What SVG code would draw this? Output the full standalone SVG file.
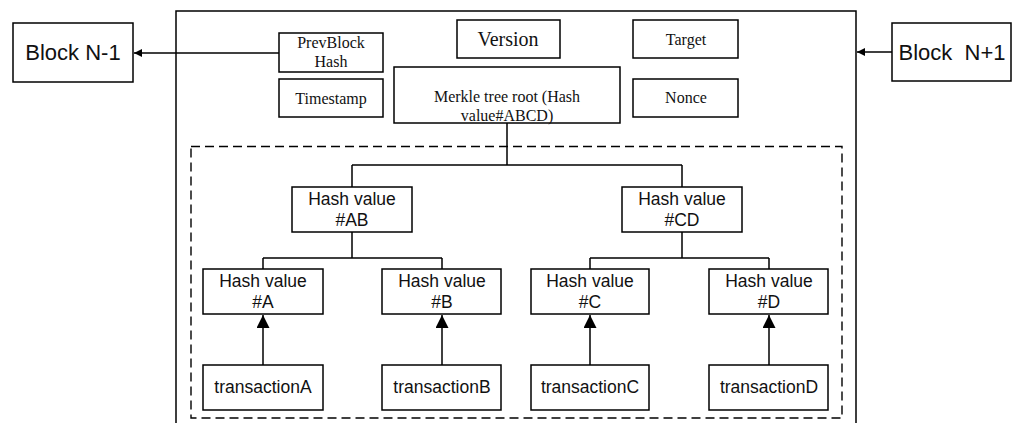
<svg xmlns="http://www.w3.org/2000/svg" width="1013" height="423" viewBox="0 0 1013 423">
<style>
.box{fill:#fff;stroke:#000;stroke-width:1.5}
.ln{fill:none;stroke:#000;stroke-width:1.5}
.serif{font-family:"Liberation Serif","Times New Roman",serif;font-size:16px;fill:#111;text-anchor:middle}
.sans{font-family:"Liberation Sans",Arial,sans-serif;font-size:17.5px;fill:#111;text-anchor:middle}
.big{font-family:"Liberation Sans",Arial,sans-serif;font-size:22px;fill:#111;text-anchor:middle}
</style>
<defs>
<marker id="ah" viewBox="0 0 10 10" refX="10" refY="5" markerWidth="8" markerHeight="8" markerUnits="userSpaceOnUse" orient="auto">
<path d="M0,0 L10,5 L0,10 Z" fill="#000"/>
</marker>
<marker id="ahT" viewBox="0 0 10 10" refX="10" refY="5" markerWidth="13" markerHeight="13" markerUnits="userSpaceOnUse" orient="auto">
<path d="M0,0 L10,5 L0,10 Z" fill="#000"/>
</marker>
</defs>
<rect width="1013" height="423" fill="#fff"/>
<g id="block-container">
<path class="ln" d="M176,430 V11 H856 V430"/>
<rect x="191" y="146.5" width="651" height="271.5" fill="none" stroke="#000" stroke-width="1.4" stroke-dasharray="9 5"/>
</g>
<g id="connectors">
<line class="ln" x1="279" y1="53" x2="134" y2="53" marker-end="url(#ah)"/>
<line class="ln" x1="892" y1="52" x2="857" y2="52" marker-end="url(#ah)"/>
<path class="ln" d="M507,123 V165 M352,165 H682 M352,165 V187 M682,165 V187"/>
<path class="ln" d="M352,232 V258 M263,258 H442 M263,258 V269 M442,258 V269"/>
<path class="ln" d="M682,232 V258 M590,258 H769 M590,258 V269 M769,258 V269"/>
<line class="ln" x1="263" y1="365" x2="263" y2="315" marker-end="url(#ahT)"/>
<line class="ln" x1="442" y1="365" x2="442" y2="315" marker-end="url(#ahT)"/>
<line class="ln" x1="590" y1="365" x2="590" y2="315" marker-end="url(#ahT)"/>
<line class="ln" x1="769" y1="365" x2="769" y2="315" marker-end="url(#ahT)"/>
</g>
<g id="block-n-1"><rect class="box" x="13" y="23" width="120" height="59"/><text class="big" x="73" y="60">Block N-1</text></g>
<g id="block-n+1"><rect class="box" x="892" y="23" width="119" height="58"/><text class="big" x="952" y="60" xml:space="preserve">Block  N+1</text></g>
<g id="prevblock"><rect class="box" x="279" y="33" width="104" height="39"/><text class="serif" x="331" y="48">PrevBlock</text><text class="serif" x="331" y="67">Hash</text></g>
<g id="timestamp"><rect class="box" x="279" y="79" width="104" height="38"/><text class="serif" x="331" y="104">Timestamp</text></g>
<g id="version"><rect class="box" x="457" y="20" width="103" height="38"/><text class="serif" x="508" y="46" style="font-size:20px">Version</text></g>
<g id="target"><rect class="box" x="633" y="20" width="105" height="38"/><text class="serif" x="686" y="45">Target</text></g>
<g id="nonce"><rect class="box" x="633" y="79" width="105" height="38"/><text class="serif" x="686" y="103">Nonce</text></g>
<g id="merkle-root"><rect class="box" x="394" y="67" width="226" height="56"/><text class="serif" x="507" y="102">Merkle tree root (Hash</text><text class="serif" x="507" y="121">value#ABCD)</text></g>
<g id="hash-ab"><rect class="box" x="292" y="187" width="120" height="45"/><text class="sans" x="352" y="205">Hash value</text><text class="sans" x="352" y="226">#AB</text></g>
<g id="hash-cd"><rect class="box" x="622" y="187" width="120" height="45"/><text class="sans" x="682" y="205">Hash value</text><text class="sans" x="682" y="226">#CD</text></g>
<g id="hash-a"><rect class="box" x="203" y="269" width="120" height="45"/><text class="sans" x="263" y="287">Hash value</text><text class="sans" x="263" y="308">#A</text></g>
<g id="hash-b"><rect class="box" x="382" y="269" width="119" height="45"/><text class="sans" x="442" y="287">Hash value</text><text class="sans" x="442" y="308">#B</text></g>
<g id="hash-c"><rect class="box" x="531" y="269" width="118" height="45"/><text class="sans" x="590" y="287">Hash value</text><text class="sans" x="590" y="308">#C</text></g>
<g id="hash-d"><rect class="box" x="709" y="269" width="119" height="45"/><text class="sans" x="769" y="287">Hash value</text><text class="sans" x="769" y="308">#D</text></g>
<g id="tx-a"><rect class="box" x="203" y="365" width="120" height="45"/><text class="sans" x="263" y="393">transactionA</text></g>
<g id="tx-b"><rect class="box" x="382" y="365" width="119" height="45"/><text class="sans" x="442" y="393">transactionB</text></g>
<g id="tx-c"><rect class="box" x="531" y="365" width="118" height="45"/><text class="sans" x="590" y="393">transactionC</text></g>
<g id="tx-d"><rect class="box" x="709" y="365" width="119" height="45"/><text class="sans" x="769" y="393">transactionD</text></g>
</svg>
